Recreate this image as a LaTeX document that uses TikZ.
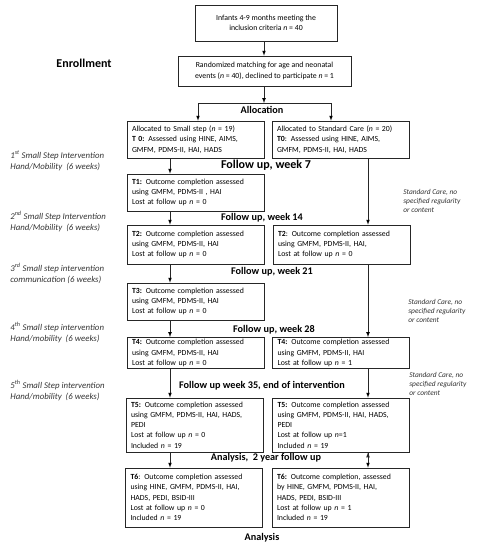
\documentclass[tikz,border=0pt]{standalone}
\usepackage{fontspec}
\setmainfont{Carlito}
\usetikzlibrary{arrows}
\newcommand{\nn}{\textit{n}}
\newcommand{\phase}[1]{\textbf{#1}}

\begin{document}
\begin{tikzpicture}[x=1pt,y=-1pt,>=latex,line width=0.7pt,
	stage/.style={draw=black!85, text width=127pt, inner xsep=5pt, inner ysep=2pt, align=left, font=\fontsize{7.8}{10.3}\selectfont},
	topbox/.style={draw=black!85, align=center, inner sep=2pt, font=\fontsize{7.8}{10.3}\selectfont},
	hdr/.style={font=\fontsize{10.2}{12}\selectfont\bfseries, inner sep=1pt},
	step label/.style={anchor=west, align=left, inner sep=0pt, text=black!80, font=\fontsize{8.8}{11}\selectfont\itshape},
	care label/.style={anchor=west, align=left, inner sep=0pt, text=black!80, font=\fontsize{7.4}{9.4}\selectfont\itshape}]
	\useasboundingbox (0,0) rectangle (484,550);
	% enrollment
	\node[topbox, minimum width=142pt, minimum height=36pt] (inf) at (266,23) {Infants 4-9 months meeting the\\inclusion criteria \nn{} = 40};
	\node[topbox, minimum width=173pt, minimum height=30pt] (rnd) at (264.5,71) {Randomized matching for age and neonatal\\events (\nn{} = 40), declined to participate \nn{} = 1};
	\node[hdr, font=\fontsize{12}{14}\selectfont\bfseries] (enr) at (84,63) {Enrollment};
	\node[hdr] (alloc) at (262,110) {Allocation};
	\coordinate (mx) at (264,0);
	\coordinate (split) at (264,103);
	\coordinate (splitL) at (198,103);
	\coordinate (splitR) at (331,103);
	\coordinate (lx) at (170,0);
	\coordinate (rx) at (368,0);
	% boxes
	\node[stage, minimum height=37pt] (l0) at (195.5,139.5) {Allocated to Small step (\nn{} = 19)\\\phase{T 0:} Assessed using HINE, AIMS,\\GMFM, PDMS-II, HAI, HADS};
	\node[stage, minimum height=37pt] (r0) at (340.5,139.5) {Allocated to Standard Care (\nn{} = 20)\\\phase{T0}: Assessed using HINE, AIMS,\\GMFM, PDMS-II, HAI, HADS};
	\node[stage, minimum height=37pt] (t1) at (195.5,192.5) {\phase{T1:} Outcome completion assessed\\using GMFM, PDMS-II , HAI\\Lost at follow up \nn{} = 0};
	\node[stage, minimum height=39pt] (t2l) at (195.5,244.5) {\phase{T2:} Outcome completion assessed\\using GMFM, PDMS-II, HAI\\Lost at follow up \nn{} = 0};
	\node[stage, minimum height=39pt] (t2r) at (341.5,244.5) {\phase{T2}: Outcome completion assessed\\using GMFM, PDMS-II, HAI,\\Lost at follow up \nn{} = 0};
	\node[stage, minimum height=37pt] (t3) at (195.5,301.5) {\phase{T3:} Outcome completion assessed\\using GMFM, PDMS-II, HAI\\Lost at follow up \nn{} = 0};
	\node[stage, minimum height=30pt] (t4l) at (195.5,353) {\phase{T4:} Outcome completion assessed\\using GMFM, PDMS-II, HAI\\Lost at follow up \nn{} = 0};
	\node[stage, minimum height=30pt] (t4r) at (341,353) {\phase{T4:} Outcome completion assessed\\using GMFM, PDMS-II, HAI\\Lost at follow up \nn{} = 1};
	\node[stage, minimum height=54pt] (t5l) at (194.5,425) {\phase{T5:} Outcome completion assessed\\using GMFM, PDMS-II, HAI, HADS,\\PEDI\\Lost at follow up \nn{} = 0\\Included \nn{} = 19};
	\node[stage, minimum height=54pt] (t5r) at (341,425) {\phase{T5:} Outcome completion assessed\\using GMFM, PDMS-II, HAI, HADS,\\PEDI\\Lost at follow up \nn{}=1\\Included \nn{} = 19};
	\node[stage, minimum height=59pt] (t6l) at (194,497.5) {\phase{T6}: Outcome completion assessed\\using HINE, GMFM, PDMS-II, HAI,\\HADS, PEDI, BSID-III\\Lost at follow up \nn{} = 0\\Included \nn{} = 19};
	\node[stage, minimum height=59pt] (t6r) at (340.5,497.5) {\phase{T6:} Outcome completion, assessed\\by HINE, GMFM, PDMS-II, HAI,\\HADS, PEDI, BSID-III\\Lost at follow up \nn{} = 1\\Included \nn{} = 19};
	% follow up headings
	\node[hdr, font=\fontsize{12}{14}\selectfont\bfseries] (fu7) at (266,165) {Follow up, week 7};
	\node[hdr] (fu14) at (262,218) {Follow up, week 14};
	\node[hdr] (fu21) at (272,272) {Follow up, week 21};
	\node[hdr] (fu28) at (274,330) {Follow up, week 28};
	\node[hdr] (fu35) at (262,386) {Follow up week 35, end of intervention};
	\node[hdr] (fu2y) at (266,458) {Analysis,\ \ 2 year follow up};
	\node[hdr] (ana) at (262,538) {Analysis};
	% side labels
	\node[step label] (s1) at (10,160.5) {1\textsuperscript{st} Small Step Intervention\\Hand/Mobility\ \ (6 weeks)};
	\node[step label] (s2) at (10,221.5) {2\textsuperscript{nd} Small Step Intervention\\Hand/Mobility\ \ (6 weeks)};
	\node[step label] (s3) at (10,273.5) {3\textsuperscript{rd} Small step intervention\\communication (6 weeks)};
	\node[step label] (s4) at (10,332.5) {4\textsuperscript{th} Small step intervention\\Hand/mobility\ \ (6 weeks)};
	\node[step label] (s5) at (10,390.5) {5\textsuperscript{th} Small Step intervention\\Hand/mobility\ \ (6 weeks)};
	\node[care label] (c1) at (403,201) {Standard Care,\ no\\specified regularity\\or content};
	\node[care label] (c2) at (408,311) {Standard Care, no\\specified regularity\\or content};
	\node[care label] (c3) at (409,384) {Standard Care, no\\specified regularity\\or content};
	% arrows
	\path[->, draw=black!85]
	(inf.south -| mx) edge (rnd.north -| mx)
	(rnd.south -| split) edge (split)
	(splitL) edge (splitL |- l0.north)
	(splitR) edge (splitR |- r0.north)
	(l0.south -| lx) edge (t1.north -| lx)
	(t1.south -| lx) edge (t2l.north -| lx)
	(t2l.south -| lx) edge (t3.north -| lx)
	(t3.south -| lx) edge (t4l.north -| lx)
	(t4l.south -| lx) edge (t5l.north -| lx)
	(t5l.south -| lx) edge (t6l.north -| lx)
	(r0.south -| rx) edge (t2r.north -| rx)
	(t2r.south -| rx) edge (t4r.north -| rx)
	(t4r.south -| rx) edge (t5r.north -| rx)
	(t5r.south -| rx) edge (t6r.north -| rx);
	\draw[draw=black!85] (splitL) -- (splitR);
\end{tikzpicture}
\end{document}
